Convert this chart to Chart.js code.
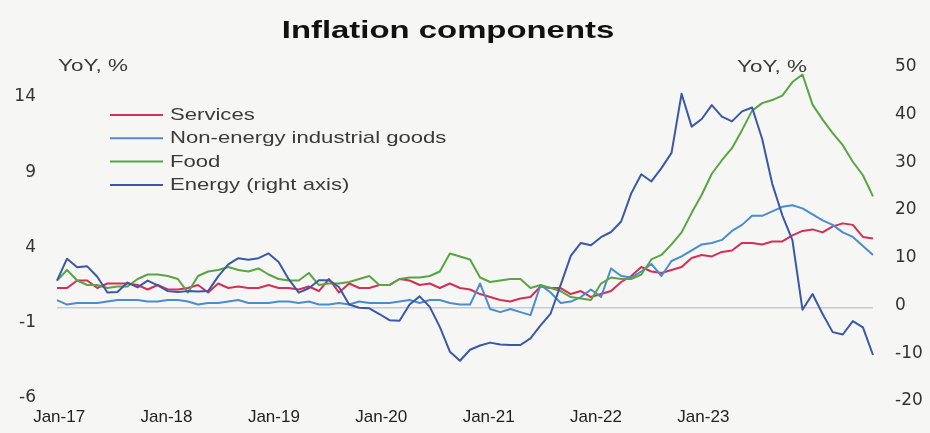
<!DOCTYPE html>
<html>
<head>
<meta charset="utf-8">
<title>Inflation components</title>
<script src="https://cdn.jsdelivr.net/npm/chart.js@4.4.1/dist/chart.umd.min.js"></script>
<style>
  html, body { margin: 0; padding: 0; background: #f6f6f5; }
  canvas { display: block; }
</style>
</head>
<body>
<canvas id="infl" width="930" height="433"></canvas>
<script>
(function () {
    "use strict";

    // ============================
    // Data: euro area HICP components, YoY %, Jan-17 .. Oct-23
    // ============================
    const MONTH_NAMES = ["Jan", "Feb", "Mar", "Apr", "May", "Jun", "Jul", "Aug", "Sep", "Oct", "Nov", "Dec"];
    const FIRST_YEAR = 2017;
    const LAST_YEAR = 2023;
    const LAST_MONTH = 10;

    const SERVICES = [
        1.3, 1.3, 1.8, 1.8, 1.3, 1.6, 1.6, 1.6, 1.5, 1.2, 1.5, 1.2,
        1.2, 1.3, 1.5, 1.0, 1.6, 1.3, 1.4, 1.3, 1.3, 1.5, 1.3, 1.3,
        1.2, 1.4, 1.1, 1.9, 1.0, 1.6, 1.3, 1.3, 1.5, 1.5, 1.9, 1.8,
        1.5, 1.6, 1.3, 1.6, 1.3, 1.2, 0.9, 0.7, 0.5, 0.4, 0.6, 0.7,
        1.4, 1.3, 1.3, 0.9, 1.1, 0.7, 0.9, 1.1, 1.7, 2.1, 2.7, 2.4,
        2.3, 2.5, 2.7, 3.3, 3.5, 3.4, 3.7, 3.8, 4.3, 4.3, 4.2, 4.4,
        4.4, 4.8, 5.1, 5.2, 5.0, 5.4, 5.6, 5.5, 4.7, 4.6
    ];

    const NEIG = [
        0.5, 0.2, 0.3, 0.3, 0.3, 0.4, 0.5, 0.5, 0.5, 0.4, 0.4, 0.5,
        0.5, 0.4, 0.2, 0.3, 0.3, 0.4, 0.5, 0.3, 0.3, 0.3, 0.4, 0.4,
        0.3, 0.4, 0.2, 0.2, 0.3, 0.2, 0.4, 0.3, 0.3, 0.3, 0.4, 0.5,
        0.3, 0.5, 0.5, 0.3, 0.2, 0.2, 1.6, -0.1, -0.3, -0.1, -0.3, -0.5,
        1.5, 1.0, 0.3, 0.4, 0.7, 1.2, 0.7, 2.6, 2.1, 2.0, 2.4, 2.9,
        2.1, 3.1, 3.4, 3.8, 4.2, 4.3, 4.5, 5.1, 5.5, 6.1, 6.1, 6.4,
        6.7, 6.8, 6.6, 6.2, 5.8, 5.5, 5.0, 4.7, 4.1, 3.5
    ];

    const FOOD = [
        1.8, 2.5, 1.8, 1.5, 1.5, 1.3, 1.4, 1.4, 1.9, 2.2, 2.2, 2.1,
        1.9, 1.0, 2.1, 2.4, 2.5, 2.7, 2.5, 2.4, 2.6, 2.2, 1.9, 1.8,
        1.8, 2.3, 1.5, 1.6, 1.6, 1.7, 1.9, 2.1, 1.5, 1.5, 1.9, 2.0,
        2.0, 2.1, 2.4, 3.6, 3.4, 3.2, 2.0, 1.7, 1.8, 1.9, 1.9, 1.3,
        1.5, 1.3, 1.1, 0.7, 0.6, 0.5, 1.6, 2.0, 1.9, 1.9, 2.2, 3.2,
        3.5, 4.2, 5.0, 6.3, 7.5, 8.9, 9.8, 10.6, 11.8, 13.1, 13.6, 13.8,
        14.1, 15.0, 15.5, 13.5, 12.5, 11.6, 10.8, 9.7, 8.8, 7.4
    ];

    // right axis
    const ENERGY = [
        5.2, 9.8, 8.0, 8.2, 6.0, 2.7, 2.8, 4.8, 3.8, 5.2, 4.2, 3.0,
        2.8, 3.0, 2.9, 3.0, 6.1, 8.6, 9.9, 9.6, 9.9, 10.9, 9.1, 5.5,
        2.7, 3.6, 5.3, 5.3, 3.8, 0.2, -0.5, -0.6, -1.8, -3.1, -3.2, 0.2,
        1.9, -0.3, -4.5, -9.7, -11.6, -9.3, -8.4, -7.8, -8.2, -8.3, -8.3, -6.9,
        -4.2, -1.7, 4.3, 10.4, 13.1, 12.6, 14.3, 15.4, 17.6, 23.5, 27.5, 26.0,
        28.8, 32.0, 44.4, 37.5, 39.1, 42.0, 39.6, 38.6, 40.7, 41.5, 34.9, 25.5,
        18.9, 13.7, -0.9, 2.4, -1.8, -5.6, -6.1, -3.3, -4.6, -10.4
    ];

    const X_TICKS = ["Jan-17", "Jan-18", "Jan-19", "Jan-20", "Jan-21", "Jan-22", "Jan-23"];
    const LEFT_TICKS = [-6, -1, 0, 4, 9, 14];

    const SERIES_NAMES = ["Services", "Non-energy industrial goods", "Food", "Energy (right axis)"];
    const SERIES_COLORS = ["#d42f56", "#4a8dcf", "#5ba444", "#3a58a6"];

    function buildMonths() {
        const out = [];
        for (let y = FIRST_YEAR; y <= LAST_YEAR; y++) {
            const last = (y === LAST_YEAR) ? LAST_MONTH : 12;
            for (let m = 0; m < last; m++) out.push(MONTH_NAMES[m] + "-" + String(y).slice(2));
        }
        return out;
    }

    // ============================
    // Text helpers (wide lettering)
    // ============================
    function drawText(ctx, text, x, y, font, color, align, sx) {
        ctx.save();
        ctx.font = font;
        ctx.fillStyle = color;
        ctx.textBaseline = "middle";
        ctx.textAlign = align;
        ctx.translate(x, y);
        ctx.scale(sx, 1);
        ctx.fillText(text, 0, 0);
        ctx.restore();
    }

    const decorPlugin = {
        id: "decor",
        beforeDraw(chart) {
            const ctx = chart.ctx;
            ctx.save();
            ctx.fillStyle = "#f6f6f5";
            ctx.fillRect(0, 0, chart.width, chart.height);
            ctx.restore();
        },
        afterDraw(chart) {
            const ctx = chart.ctx;
            const a = chart.chartArea;
            const body = "17px 'Liberation Sans', Arial, sans-serif";

            drawText(ctx, "Inflation components", 448, 31,
                "bold 24px 'Liberation Sans', Arial, sans-serif", "#111", "center", 1.37);

            drawText(ctx, "YoY, %", a.left + 1, 66, body, "#3a3a3a", "left", 1.32);
            drawText(ctx, "YoY, %", a.right - 66, 67, body, "#3a3a3a", "right", 1.32);

            // legend, stacked top-left inside the plot
            const lx = a.left + 53;
            chart.data.datasets.forEach((ds, i) => {
                const y = 115 + i * 23.3;
                ctx.save();
                ctx.strokeStyle = ds.borderColor;
                ctx.lineWidth = 2;
                ctx.beginPath();
                ctx.moveTo(lx, y);
                ctx.lineTo(lx + 53, y);
                ctx.stroke();
                ctx.restore();
                drawText(ctx, ds.label, lx + 60, y + 0.5, body, "#3a3a3a", "left", 1.3);
            });
        }
    };

    // ============================
    // Chart
    // ============================
    const months = buildMonths();
    const seriesData = [SERVICES, NEIG, FOOD, ENERGY];

    const datasets = SERIES_NAMES.map((name, i) => ({
        label: name,
        data: seriesData[i],
        yAxisID: i === 3 ? "y2" : "y",
        xAxisID: "x",
        borderColor: SERIES_COLORS[i],
        borderWidth: 2,
        pointRadius: 0,
        tension: 0,
        borderJoinStyle: "round",
        order: 3 - i
    }));

    const tickFont = { family: "'DejaVu Sans', sans-serif", size: 17 };

    new Chart(document.getElementById("infl"), {
        type: "line",
        data: { labels: months, datasets },
        plugins: [decorPlugin],
        options: {
            responsive: false,
            devicePixelRatio: 1,
            animation: false,
            layout: { padding: { top: 67, left: 0, right: 0, bottom: 0 } },
            plugins: {
                legend: { display: false },
                title: { display: false },
                tooltip: { enabled: false }
            },
            scales: {
                x: {
                    type: "category",
                    display: false,
                    offset: false
                },
                xl: {
                    type: "linear",
                    position: "bottom",
                    min: -0.02,
                    max: 7.58,
                    afterBuildTicks: (s) => { s.ticks = X_TICKS.map((_, i) => ({ value: i })); },
                    afterFit: (s) => { s.height = 30; },
                    grid: { display: false, drawTicks: false },
                    border: { display: false },
                    ticks: {
                        autoSkip: false,
                        maxRotation: 0,
                        padding: 6,
                        color: "#222",
                        font: { family: "'Liberation Sans', Arial, sans-serif", size: 17 },
                        callback: (v) => X_TICKS[v] || ""
                    }
                },
                y: {
                    position: "left",
                    min: -6.2,
                    max: 16,
                    afterBuildTicks: (s) => { s.ticks = LEFT_TICKS.map(v => ({ value: v })); },
                    afterFit: (s) => { s.width = 57; },
                    grid: {
                        drawTicks: false,
                        lineWidth: 1.5,
                        color: (c) => (c.tick && c.tick.value === 0) ? "#c9ccd6" : "rgba(0,0,0,0)"
                    },
                    border: { display: false },
                    ticks: {
                        padding: 21,
                        color: "#333",
                        font: tickFont,
                        callback: (v) => v === 0 ? "" : String(v)
                    }
                },
                y2: {
                    position: "right",
                    min: -20,
                    max: 50,
                    afterFit: (s) => { s.width = 57; },
                    grid: { display: false, drawTicks: false },
                    border: { display: false },
                    ticks: {
                        stepSize: 10,
                        padding: 22,
                        color: "#333",
                        font: tickFont
                    }
                }
            }
        }
    });
})();
</script>
</body>
</html>
